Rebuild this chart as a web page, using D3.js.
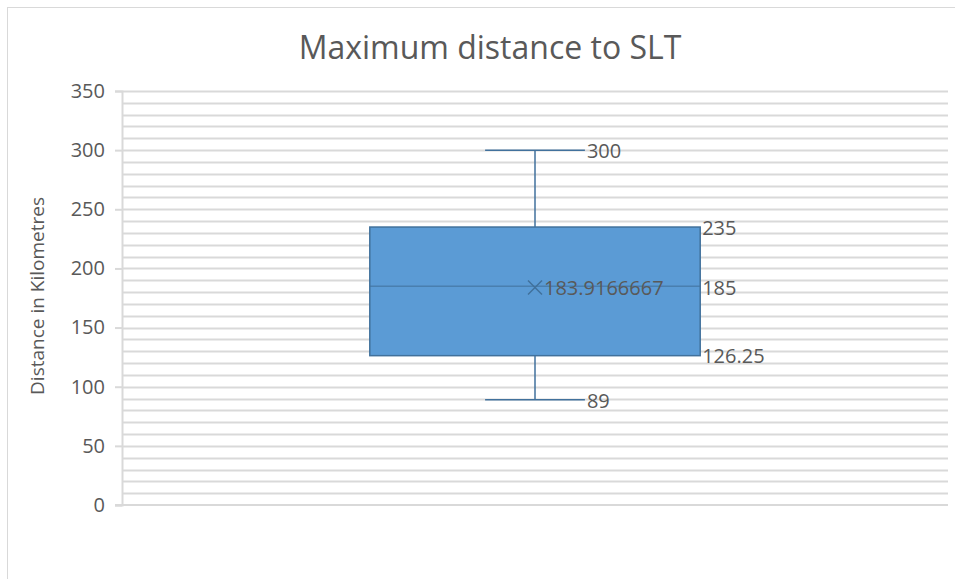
<!DOCTYPE html>
<html>
<head>
<meta charset="utf-8">
<script src="https://cdn.jsdelivr.net/npm/d3@7"></script>
<style>
  body { margin: 0; background: #fff; }
  text { font-family: "Open Sans", sans-serif; fill: #595959; }
</style>
</head>
<body>
<div class="box"></div>
<script>
// Data
const categories = ['Maximum distance'];
const minValues = [89];
const q1Values = [126.25];
const medianValues = [185];
const q3Values = [235];
const maxValues = [300];
const meanValues = [183.9166667];
const meanLabels = ['183.9166667'];
const yTicks = [0, 50, 100, 150, 200, 250, 300, 350];

const width = 955;
const height = 579;

const svg = d3.select('.box')
              .append('svg')
              .attr('width', width)
              .attr('height', height);

// chart border
svg.append('rect')
   .attr('x', 7.5).attr('y', 7.5)
   .attr('width', width + 10).attr('height', height + 10)
   .attr('fill', 'none')
   .attr('stroke', '#d9d9d9');

// Dimensions
const margin = {top: 91, right: 7, bottom: 74, left: 122};
const graphWidth = width - margin.left - margin.right;
const graphHeight = height - margin.top - margin.bottom;

const graph = svg.append('g')
                 .attr('transform', `translate(${margin.left}, ${margin.top})`);

// Scales
const y = d3.scaleLinear()
            .domain([0, 350])
            .range([graphHeight, 0]);

const x = d3.scaleBand()
            .domain(categories)
            .range([0, graphWidth])
            .paddingInner(0.6)
            .paddingOuter(0.3);

// minor + major gridlines
graph.append('g')
     .selectAll('line')
     .data(d3.range(10, 351, 10))
     .enter()
     .append('line')
     .attr('x1', 0).attr('x2', graphWidth)
     .attr('y1', d => Math.round(y(d)) + 0.5)
     .attr('y2', d => Math.round(y(d)) + 0.5)
     .attr('stroke', '#d9d9d9')
     .attr('stroke-width', 2);

// y axis
const axeY = d3.axisLeft(y)
               .tickValues(yTicks)
               .tickSize(7)
               .tickPadding(10);

const groupeY = graph.append('g').call(axeY);
groupeY.select('.domain').attr('stroke', '#d9d9d9').attr('stroke-width', 2);
groupeY.selectAll('.tick line').attr('stroke', '#d9d9d9').attr('stroke-width', 2);
groupeY.selectAll('.tick text')
       .style('font-size', '20px')
       .attr('fill', '#595959');

// baseline at 0
graph.append('line')
     .attr('x1', -7).attr('x2', graphWidth)
     .attr('y1', y(0)).attr('y2', y(0))
     .attr('stroke', '#d9d9d9').attr('stroke-width', 2);

// boxes
const boxColor = '#5b9bd5';
const lineColor = '#41719c';

categories.forEach((c, i) => {
  const bx = x(c);
  const bw = x.bandwidth();
  const cx = bx + bw / 2;
  const capW = bw * 0.29;
  const g = graph.append('g');

  // whiskers
  g.append('line')
   .attr('x1', cx).attr('x2', cx)
   .attr('y1', y(maxValues[i])).attr('y2', y(q3Values[i]))
   .attr('stroke', lineColor).attr('stroke-width', 1.5);
  g.append('line')
   .attr('x1', cx).attr('x2', cx)
   .attr('y1', y(q1Values[i])).attr('y2', y(minValues[i]))
   .attr('stroke', lineColor).attr('stroke-width', 1.5);
  g.append('line')
   .attr('x1', cx - capW / 2 - 2).attr('x2', cx + capW / 2 + 2)
   .attr('y1', y(maxValues[i])).attr('y2', y(maxValues[i]))
   .attr('stroke', lineColor).attr('stroke-width', 1.5);
  g.append('line')
   .attr('x1', cx - capW / 2 - 2).attr('x2', cx + capW / 2 + 2)
   .attr('y1', y(minValues[i])).attr('y2', y(minValues[i]))
   .attr('stroke', lineColor).attr('stroke-width', 1.5);

  // box
  g.append('rect')
   .attr('x', bx).attr('y', y(q3Values[i]))
   .attr('width', bw).attr('height', y(q1Values[i]) - y(q3Values[i]))
   .attr('fill', boxColor)
   .attr('stroke', lineColor).attr('stroke-width', 1.5);

  // median
  g.append('line')
   .attr('x1', bx).attr('x2', bx + bw)
   .attr('y1', y(medianValues[i])).attr('y2', y(medianValues[i]))
   .attr('stroke', lineColor).attr('stroke-width', 1);

  // mean marker
  const m = 7;
  const my = y(meanValues[i]);
  g.append('path')
   .attr('d', `M${cx - m},${my - m}L${cx + m},${my + m}M${cx - m},${my + m}L${cx + m},${my - m}`)
   .attr('stroke', lineColor).attr('stroke-width', 1.5).attr('fill', 'none');

  // labels
  const lab = (tx, ty, t) => g.append('text')
      .attr('x', tx).attr('y', ty)
      .attr('dy', '0.36em')
      .style('font-size', '20px')
      .text(t);
  lab(cx + capW / 2 + 4, y(maxValues[i]) + 1, maxValues[i]);
  lab(bx + bw + 2, y(q3Values[i]) + 1, q3Values[i]);
  lab(bx + bw + 2, y(medianValues[i]) + 2, medianValues[i]);
  lab(bx + bw + 2, y(q1Values[i]), q1Values[i]);
  lab(cx + capW / 2 + 4, y(minValues[i]) + 1, minValues[i]);
  lab(cx + 9, my, meanLabels[i]);
});

// title
svg.append('text')
   .attr('x', 490).attr('y', 59)
   .attr('text-anchor', 'middle')
   .style('font-size', '32px')
   .text('Maximum distance to SLT');

// y axis title
svg.append('text')
   .attr('transform', `translate(44, ${margin.top + graphHeight / 2 - 2}) rotate(-90)`)
   .attr('text-anchor', 'middle')
   .style('font-size', '19px')
   .text('Distance in Kilometres');
</script>
</body>
</html>
